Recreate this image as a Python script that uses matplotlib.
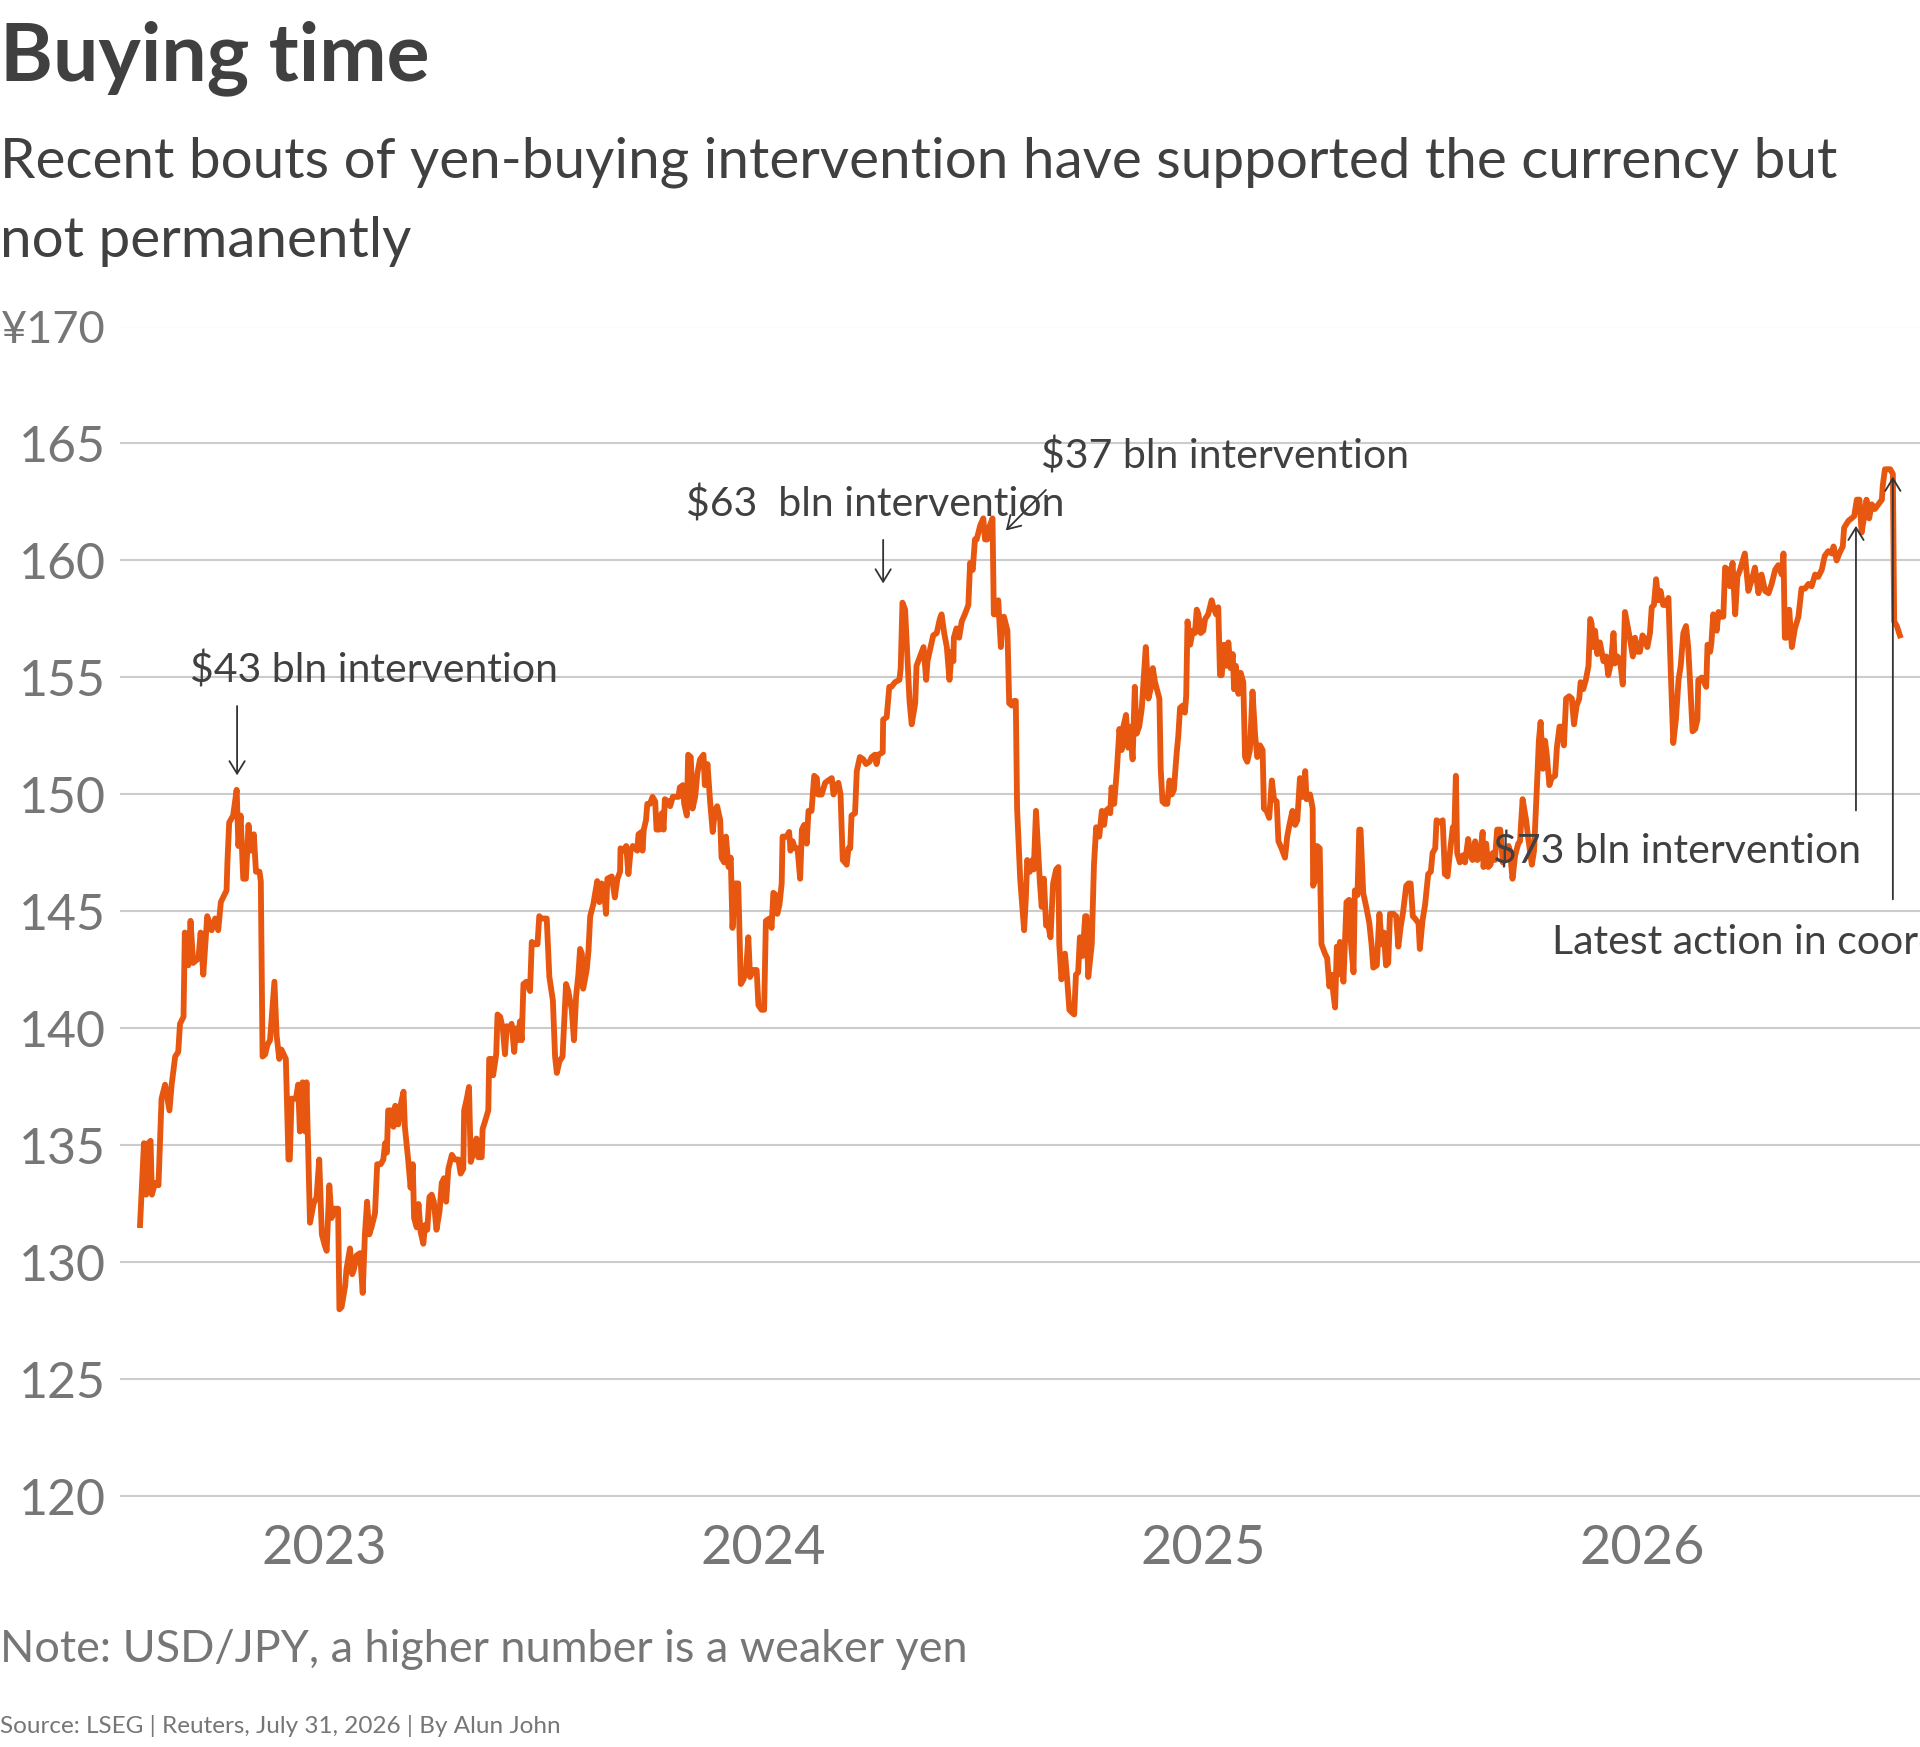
import matplotlib
matplotlib.use("Agg")
import matplotlib.pyplot as plt

# USD/JPY, x in decimal years
t_a = [2022.580, 2022.586, 2022.589, 2022.594, 2022.599, 2022.604, 2022.607, 2022.614, 2022.622, 2022.629,
       2022.637, 2022.647, 2022.652, 2022.660, 2022.667, 2022.671, 2022.679, 2022.682, 2022.690, 2022.695,
       2022.701, 2022.713, 2022.718, 2022.724, 2022.733, 2022.743, 2022.751, 2022.758, 2022.764, 2022.777,
       2022.779, 2022.783, 2022.792, 2022.800, 2022.804, 2022.809, 2022.815, 2022.821, 2022.827, 2022.832,
       2022.839, 2022.844, 2022.852, 2022.855, 2022.859, 2022.865, 2022.870, 2022.876, 2022.886, 2022.891,
       2022.897, 2022.902, 2022.912, 2022.918, 2022.921, 2022.925, 2022.935, 2022.940, 2022.944, 2022.950,
       2022.956, 2022.959, 2022.967, 2022.975, 2022.982, 2022.988, 2022.994, 2023.001, 2023.005, 2023.011,
       2023.016, 2023.024, 2023.031, 2023.034, 2023.039, 2023.047, 2023.050, 2023.058, 2023.063, 2023.067,
       2023.073, 2023.081, 2023.087, 2023.092, 2023.097, 2023.102, 2023.107, 2023.115, 2023.120, 2023.128,
       2023.134, 2023.138, 2023.142, 2023.145, 2023.153, 2023.157, 2023.161, 2023.164, 2023.168, 2023.173,
       2023.180, 2023.183, 2023.191, 2023.196, 2023.201, 2023.204, 2023.210, 2023.214, 2023.219, 2023.225,
       2023.229, 2023.234, 2023.239, 2023.244, 2023.249, 2023.255, 2023.262, 2023.267, 2023.272, 2023.277,
       2023.282, 2023.290, 2023.297, 2023.305, 2023.310, 2023.316, 2023.318, 2023.324, 2023.329, 2023.333,
       2023.339, 2023.346, 2023.350, 2023.358, 2023.360, 2023.365, 2023.373, 2023.375, 2023.381, 2023.384,
       2023.391, 2023.394, 2023.400, 2023.406, 2023.411, 2023.415, 2023.422, 2023.426, 2023.432, 2023.436,
       2023.441, 2023.445, 2023.449, 2023.453, 2023.460]
v_a = [131.6, 133.9, 135.1, 132.9, 135.1, 135.2, 132.9, 133.4, 133.3, 137.0,
       137.6, 136.5, 137.6, 138.8, 139.0, 140.2, 140.5, 144.1, 142.7, 144.6,
       142.8, 143.0, 144.1, 142.3, 144.8, 144.2, 144.7, 144.2, 145.4, 145.9,
       147.1, 148.8, 149.1, 150.2, 147.8, 149.1, 146.4, 146.4, 148.7, 147.6,
       148.3, 146.7, 146.7, 146.3, 138.8, 138.9, 139.3, 139.5, 142.0, 139.7,
       138.7, 139.1, 138.7, 134.4, 134.4, 137.0, 137.0, 137.6, 135.6, 137.7,
       135.6, 137.7, 131.7, 132.5, 132.8, 134.4, 131.2, 130.7, 130.5, 133.3,
       131.9, 132.3, 132.3, 128.0, 128.1, 129.0, 129.7, 130.6, 129.5, 129.7,
       130.3, 130.4, 128.7, 131.2, 132.6, 131.2, 131.5, 132.1, 134.2, 134.2,
       134.4, 135.1, 134.7, 136.5, 136.5, 135.8, 136.7, 136.4, 135.9, 136.7,
       137.3, 135.8, 134.3, 133.2, 134.2, 131.9, 131.5, 132.5, 131.3, 130.8,
       131.6, 131.4, 132.8, 132.9, 132.6, 131.4, 132.2, 133.4, 133.6, 132.6,
       134.0, 134.6, 134.4, 134.4, 133.8, 134.0, 136.5, 137.0, 137.5, 134.3,
       134.7, 135.3, 134.5, 134.5, 135.7, 136.0, 136.5, 138.7, 138.7, 138.0,
       138.9, 140.6, 140.5, 140.0, 138.9, 140.1, 140.0, 140.2, 139.0, 140.0,
       139.5, 140.3, 139.5, 141.9, 142.0]

t_b = [2023.468, 2023.472, 2023.479, 2023.485, 2023.489, 2023.494, 2023.506, 2023.512, 2023.520, 2023.525,
       2023.529, 2023.535, 2023.542, 2023.550, 2023.555, 2023.563, 2023.568, 2023.573, 2023.578, 2023.582,
       2023.586, 2023.589, 2023.597, 2023.601, 2023.605, 2023.612, 2023.621, 2023.626, 2023.631, 2023.636,
       2023.641, 2023.644, 2023.654, 2023.661, 2023.667, 2023.673, 2023.674, 2023.680, 2023.687, 2023.692,
       2023.697, 2023.702, 2023.707, 2023.712, 2023.715, 2023.722, 2023.724, 2023.727, 2023.732, 2023.735,
       2023.741, 2023.747, 2023.753, 2023.756, 2023.762, 2023.768, 2023.772, 2023.775, 2023.783, 2023.787,
       2023.793, 2023.798, 2023.806, 2023.809, 2023.816, 2023.819, 2023.825, 2023.828, 2023.834, 2023.838,
       2023.844, 2023.849, 2023.855, 2023.863, 2023.866, 2023.872, 2023.878, 2023.884, 2023.889, 2023.894,
       2023.901, 2023.904, 2023.910, 2023.914, 2023.920, 2023.925, 2023.929, 2023.935, 2023.942, 2023.948,
       2023.954, 2023.960, 2023.965, 2023.969, 2023.976, 2023.984, 2023.988, 2023.995, 2024.001, 2024.005,
       2024.013, 2024.018, 2024.022, 2024.028, 2024.031, 2024.036, 2024.041, 2024.043, 2024.052, 2024.058,
       2024.061, 2024.066, 2024.071, 2024.077, 2024.083, 2024.087, 2024.092, 2024.098, 2024.102, 2024.109,
       2024.115, 2024.121, 2024.124, 2024.132, 2024.140, 2024.147, 2024.155, 2024.159, 2024.165, 2024.170,
       2024.175, 2024.180, 2024.185, 2024.189, 2024.193, 2024.197, 2024.200, 2024.208, 2024.212, 2024.219,
       2024.227, 2024.233, 2024.241, 2024.246, 2024.253, 2024.257, 2024.261, 2024.271, 2024.272, 2024.280,
       2024.286, 2024.291, 2024.299, 2024.309, 2024.312, 2024.316, 2024.322, 2024.327, 2024.332, 2024.337,
       2024.345, 2024.348, 2024.356, 2024.364, 2024.370, 2024.373, 2024.380, 2024.386, 2024.394, 2024.401]
v_b = [141.6, 143.7, 143.6, 143.6, 144.8, 144.7, 144.7, 142.2, 141.2, 138.8,
       138.1, 138.6, 138.8, 141.9, 141.6, 140.8, 139.5, 141.4, 142.3, 143.4,
       143.2, 141.7, 142.5, 143.3, 144.8, 145.3, 146.3, 145.4, 146.2, 146.0,
       144.9, 146.4, 146.5, 145.6, 146.4, 146.7, 147.7, 147.6, 147.8, 146.6,
       147.6, 147.8, 147.7, 147.6, 148.3, 148.4, 147.6, 148.5, 148.9, 149.6,
       149.6, 149.9, 149.7, 148.5, 148.5, 149.2, 148.5, 149.8, 149.7, 149.5,
       149.9, 149.9, 149.9, 150.3, 150.4, 149.6, 149.1, 151.7, 151.6, 149.4,
       149.9, 150.9, 151.5, 151.7, 150.4, 151.3, 149.7, 148.4, 149.3, 149.5,
       148.9, 147.3, 147.1, 148.2, 146.9, 147.3, 144.3, 146.2, 146.2, 141.9,
       142.1, 142.5, 143.9, 142.2, 142.5, 142.5, 141.0, 140.8, 140.8, 144.6,
       144.7, 144.3, 145.8, 145.7, 144.9, 145.3, 146.2, 148.2, 148.2, 148.4,
       147.6, 148.0, 147.7, 147.7, 146.4, 148.5, 148.7, 147.9, 149.3, 149.3,
       150.8, 150.7, 150.0, 150.0, 150.5, 150.6, 150.7, 150.0, 150.4, 150.5,
       150.0, 147.2, 147.1, 147.0, 147.7, 147.7, 149.1, 149.2, 151.0, 151.6,
       151.5, 151.3, 151.4, 151.6, 151.7, 151.3, 151.7, 151.8, 153.2, 153.3,
       154.6, 154.6, 154.8, 154.9, 155.4, 158.2, 157.9, 155.9, 154.0, 153.0,
       153.9, 155.5, 155.9, 156.3, 154.9, 155.7, 156.3, 156.8, 156.9, 157.5]

t_c = [2024.405, 2024.411, 2024.417, 2024.423, 2024.428, 2024.432, 2024.433, 2024.439, 2024.445, 2024.451,
       2024.458, 2024.466, 2024.470, 2024.476, 2024.481, 2024.485, 2024.493, 2024.500, 2024.504, 2024.509,
       2024.515, 2024.521, 2024.524, 2024.529, 2024.534, 2024.540, 2024.544, 2024.547, 2024.555, 2024.559,
       2024.565, 2024.570, 2024.574, 2024.577, 2024.584, 2024.593, 2024.597, 2024.600, 2024.606, 2024.612,
       2024.615, 2024.620, 2024.625, 2024.629, 2024.633, 2024.638, 2024.643, 2024.648, 2024.653, 2024.659,
       2024.666, 2024.671, 2024.673, 2024.678, 2024.686, 2024.691, 2024.696, 2024.701, 2024.707, 2024.711,
       2024.716, 2024.720, 2024.726, 2024.732, 2024.735, 2024.739, 2024.747, 2024.752, 2024.757, 2024.764,
       2024.770, 2024.775, 2024.779, 2024.785, 2024.789, 2024.792, 2024.798, 2024.804, 2024.810, 2024.815,
       2024.819, 2024.825, 2024.830, 2024.834, 2024.840, 2024.845, 2024.849, 2024.855, 2024.861, 2024.864,
       2024.870, 2024.876, 2024.881, 2024.886, 2024.891, 2024.901, 2024.904, 2024.908, 2024.914, 2024.919,
       2024.924, 2024.929, 2024.934, 2024.940, 2024.944, 2024.948, 2024.954, 2024.959, 2024.962, 2024.965,
       2024.971, 2024.977, 2024.982, 2024.986, 2024.990, 2024.995, 2025.001, 2025.005, 2025.012, 2025.020,
       2025.024, 2025.030, 2025.035, 2025.039, 2025.043, 2025.048, 2025.053, 2025.058, 2025.063, 2025.068,
       2025.071, 2025.075, 2025.081, 2025.086, 2025.092, 2025.096, 2025.101, 2025.107, 2025.113, 2025.119,
       2025.124, 2025.130, 2025.136, 2025.139, 2025.145, 2025.151, 2025.157, 2025.162, 2025.168, 2025.172,
       2025.179, 2025.187, 2025.192, 2025.197, 2025.204, 2025.210, 2025.215, 2025.221, 2025.227, 2025.233,
       2025.236, 2025.244, 2025.250, 2025.251, 2025.257, 2025.260, 2025.266, 2025.270, 2025.278, 2025.283,
       2025.288, 2025.293, 2025.297, 2025.301, 2025.305, 2025.308, 2025.312, 2025.320, 2025.327, 2025.333]
v_c = [157.7, 156.9, 156.3, 154.9, 156.1, 155.7, 156.7, 157.1, 156.7, 157.4,
       157.7, 158.1, 159.9, 159.6, 160.9, 160.9, 161.5, 161.8, 160.9, 160.9,
       161.5, 161.8, 157.7, 157.7, 158.3, 156.3, 157.5, 157.6, 157.0, 153.9,
       153.8, 154.0, 154.0, 149.4, 146.4, 144.2, 145.6, 147.2, 146.7, 147.2,
       146.8, 149.3, 147.6, 146.2, 145.2, 146.4, 144.4, 144.4, 143.9, 146.2,
       146.8, 146.9, 143.6, 142.1, 143.2, 142.1, 140.8, 140.7, 140.6, 142.3,
       142.4, 143.9, 143.1, 144.8, 144.8, 142.2, 143.6, 147.0, 148.6, 148.2,
       149.3, 148.7, 149.3, 149.4, 149.2, 150.3, 149.6, 151.0, 152.8, 151.9,
       152.9, 153.4, 152.0, 152.9, 151.5, 154.6, 152.6, 152.9, 153.7, 154.6,
       156.3, 154.1, 154.5, 155.4, 154.8, 154.1, 151.1, 149.7, 149.6, 149.6,
       150.6, 150.0, 150.2, 151.7, 152.5, 153.7, 153.8, 153.5, 154.2, 157.4,
       156.4, 157.0, 156.9, 157.9, 157.7, 156.9, 157.0, 157.5, 157.7, 158.3,
       158.0, 157.7, 158.0, 155.1, 155.1, 156.4, 155.5, 156.5, 155.4, 156.0,
       154.5, 155.5, 154.3, 155.2, 154.8, 151.6, 151.4, 151.9, 154.4, 152.5,
       151.6, 152.1, 151.9, 149.4, 149.3, 149.0, 150.6, 149.8, 149.7, 148.0,
       147.7, 147.3, 148.2, 148.7, 149.3, 148.7, 148.9, 150.7, 149.9, 151.0,
       149.8, 150.0, 149.4, 146.1, 146.4, 147.8, 147.7, 143.6, 143.2, 143.0,
       141.8, 142.3, 141.5, 140.9, 143.5, 142.3, 143.7, 142.0, 145.4, 145.5]

t_d = [2025.335, 2025.343, 2025.346, 2025.352, 2025.356, 2025.359, 2025.365, 2025.373, 2025.379, 2025.384,
       2025.388, 2025.396, 2025.402, 2025.407, 2025.412, 2025.417, 2025.422, 2025.426, 2025.434, 2025.440,
       2025.445, 2025.450, 2025.456, 2025.463, 2025.468, 2025.473, 2025.478, 2025.483, 2025.491, 2025.494,
       2025.500, 2025.506, 2025.513, 2025.519, 2025.523, 2025.529, 2025.532, 2025.540, 2025.546, 2025.551,
       2025.557, 2025.563, 2025.569, 2025.572, 2025.576, 2025.579, 2025.585, 2025.592, 2025.597, 2025.604,
       2025.610, 2025.614, 2025.620, 2025.625, 2025.631, 2025.637, 2025.639, 2025.645, 2025.650, 2025.655,
       2025.660, 2025.665, 2025.670, 2025.677, 2025.683, 2025.688, 2025.696, 2025.699, 2025.705, 2025.711,
       2025.718, 2025.722, 2025.728, 2025.736, 2025.741, 2025.749, 2025.754, 2025.760, 2025.765, 2025.769,
       2025.774, 2025.779, 2025.783, 2025.789, 2025.794, 2025.802, 2025.806, 2025.812, 2025.817, 2025.822,
       2025.827, 2025.834, 2025.840, 2025.845, 2025.851, 2025.857, 2025.860, 2025.866, 2025.872, 2025.878,
       2025.882, 2025.885, 2025.889, 2025.893, 2025.898, 2025.904, 2025.912, 2025.918, 2025.923, 2025.929,
       2025.935, 2025.938, 2025.944, 2025.950, 2025.956, 2025.961, 2025.967, 2025.973, 2025.979, 2025.984,
       2025.989, 2025.995, 2026.001, 2026.007, 2026.012, 2026.018, 2026.022, 2026.027, 2026.032, 2026.037,
       2026.042, 2026.048, 2026.055, 2026.060, 2026.064, 2026.067, 2026.071, 2026.077, 2026.083, 2026.088,
       2026.094, 2026.100, 2026.105, 2026.111, 2026.115, 2026.121, 2026.126, 2026.128, 2026.136, 2026.146,
       2026.149, 2026.155, 2026.158, 2026.162, 2026.170, 2026.174, 2026.179, 2026.185, 2026.189, 2026.196,
       2026.200, 2026.206, 2026.212, 2026.217, 2026.223]
v_d = [144.1, 142.4, 145.9, 145.7, 148.5, 148.5, 145.8, 145.1, 144.5, 143.6,
       142.6, 142.7, 144.9, 143.6, 144.1, 142.7, 142.8, 144.9, 144.9, 144.8,
       143.5, 144.3, 145.0, 146.1, 146.2, 146.2, 144.8, 144.7, 144.5, 143.4,
       144.6, 145.3, 146.6, 146.7, 147.5, 147.7, 148.9, 148.8, 148.9, 146.6,
       146.5, 147.6, 148.6, 148.1, 150.8, 147.5, 147.1, 147.4, 147.1, 148.1,
       147.4, 147.2, 148.0, 147.2, 147.4, 148.4, 146.9, 147.9, 146.9, 147.0,
       147.5, 147.2, 148.5, 148.5, 147.1, 147.2, 147.8, 147.6, 146.4, 147.4,
       147.9, 148.0, 149.8, 148.9, 148.1, 147.0, 147.6, 150.1, 152.3, 153.1,
       151.1, 152.3, 151.7, 150.4, 150.7, 150.8, 152.0, 152.9, 152.9, 152.1,
       154.1, 154.2, 154.1, 153.0, 153.8, 154.1, 154.8, 154.5, 154.9, 155.5,
       157.5, 157.3, 156.3, 157.0, 156.0, 156.5, 155.7, 155.9, 155.1, 155.6,
       156.9, 155.6, 155.9, 155.7, 154.7, 157.8, 157.2, 156.6, 155.9, 156.7,
       156.1, 156.1, 156.8, 156.6, 156.3, 156.9, 158.0, 158.1, 159.2, 158.3,
       158.7, 158.1, 158.1, 158.4, 156.0, 154.4, 152.2, 153.2, 154.9, 155.5,
       156.9, 157.2, 156.3, 154.2, 152.7, 152.8, 153.2, 154.9, 155.0, 154.6,
       156.4, 156.1, 156.5, 157.7, 157.0, 157.8, 157.6, 157.6, 159.7, 159.6,
       158.9, 159.9, 157.7, 159.3, 159.6]

t_e = [2026.234, 2026.242, 2026.250, 2026.257, 2026.265, 2026.272, 2026.280, 2026.288, 2026.295, 2026.303,
       2026.310, 2026.318, 2026.322, 2026.325, 2026.329, 2026.335, 2026.341, 2026.348, 2026.356, 2026.363,
       2026.371, 2026.379, 2026.386, 2026.394, 2026.401, 2026.409, 2026.416, 2026.424, 2026.432, 2026.436,
       2026.443, 2026.449, 2026.457, 2026.460, 2026.470, 2026.477, 2026.483, 2026.489, 2026.495, 2026.500,
       2026.505, 2026.511, 2026.517, 2026.523, 2026.530, 2026.538, 2026.546, 2026.548, 2026.553, 2026.559,
       2026.565, 2026.571, 2026.574, 2026.580, 2026.587]
v_e = [160.3, 158.7, 159.2, 159.7, 158.6, 159.4, 158.7, 158.6, 159.0, 159.6,
       159.8, 159.4, 160.3, 156.7, 156.7, 157.9, 156.3, 157.1, 157.6, 158.8,
       158.8, 159.0, 158.9, 159.4, 159.3, 159.6, 160.2, 160.4, 160.3, 160.6,
       160.0, 160.3, 160.6, 161.4, 161.7, 161.8, 161.9, 162.6, 162.6, 161.2,
       161.8, 162.6, 161.8, 162.4, 162.2, 162.4, 162.6, 163.2, 163.9, 163.9,
       163.9, 163.7, 157.4, 157.2, 156.8]

years = [2023, 2024, 2025, 2026]
y_ticks = [120, 125, 130, 135, 140, 145, 150, 155, 160, 165, 170]

t = t_a + t_b + t_c + t_d + t_e
rate = v_a + v_b + v_c + v_d + v_e

W, H = 1920, 1747
DARK = "#404040"
GREY = "#767676"
ORANGE = "#e8570f"
FONT = "Lato"

fig = plt.figure(figsize=(W / 100, H / 100), dpi=100)
ax = fig.add_axes([120 / W, 1 - 1496.5 / H, 1800 / W, 1170 / H])

ax.plot(t, rate, color=ORANGE, lw=4.2, solid_joinstyle="round", zorder=3)

ax.set_xlim(2022.5344, 2026.6328)
ax.set_ylim(120, 170)
ax.set_yticks(y_ticks)
ax.set_yticklabels(["¥170" if v == 170 else str(v) for v in y_ticks])
ax.set_xticks(years)
ax.set_xticklabels([str(y) for y in years])
ax.grid(axis="y", color="#cccccc", lw=1.5)
ax.set_axisbelow(True)
for s in ax.spines.values():
    s.set_visible(False)
ax.tick_params(axis="y", length=0, pad=10, labelsize=36, labelcolor=GREY)
ax.tick_params(axis="x", length=0, pad=20, labelsize=39, labelcolor=GREY)
for lab in ax.get_xticklabels() + ax.get_yticklabels():
    lab.set_fontfamily(FONT)
# the yen sign is wide in Lato, shrink the top label a little so it fits
ax.get_yticklabels()[-1].set_fontsize(32.5)

# annotations
ann = dict(fontsize=29.5, color=DARK, family=FONT, zorder=5)
arr = dict(arrowstyle="->,head_length=0.9,head_width=0.55", color="#333333", lw=1.3)

ax.text(2022.694, 154.8, "$43 bln intervention", **ann)
ax.annotate("", xy=(2022.801, 150.7), xytext=(2022.801, 153.9), arrowprops=arr)

ax.text(2023.823, 161.86, "$63  bln intervention", **ann)
ax.annotate("", xy=(2024.272, 158.9), xytext=(2024.272, 161.0), arrowprops=arr)

ax.text(2024.631, 163.95, "$37 bln intervention", **ann)
ax.annotate("", xy=(2024.547, 161.2), xytext=(2024.647, 163.1), arrowprops=arr)

ax.text(2026.498, 147.07, "$73 bln intervention", ha="right", **ann)
ax.annotate("", xy=(2026.487, 161.6), xytext=(2026.487, 149.2), arrowprops=arr)

ax.text(2025.795, 143.2, "Latest action in coordination with US", clip_on=False, **ann)
ax.annotate("", xy=(2026.571, 163.7), xytext=(2026.571, 145.4), arrowprops=arr)

# titles and notes
fig.text(0, 1 - 80 / H, "Buying time", fontsize=58, weight="bold", color=DARK, family=FONT)
fig.text(0, 1 - 178 / H, "Recent bouts of yen-buying intervention have supported the currency but",
         fontsize=40.8, color=DARK, family=FONT)
fig.text(0, 1 - 257 / H, "not permanently", fontsize=40.8, color=DARK, family=FONT)
fig.text(0, 1 - 1662 / H, "Note: USD/JPY, a higher number is a weaker yen",
         fontsize=32.4, color=GREY, family=FONT)
fig.text(0, 1 - 1733 / H, "Source: LSEG | Reuters, July 31, 2026 | By Alun John",
         fontsize=17.5, color=GREY, family=FONT)

fig.savefig("out.png", dpi=100)
